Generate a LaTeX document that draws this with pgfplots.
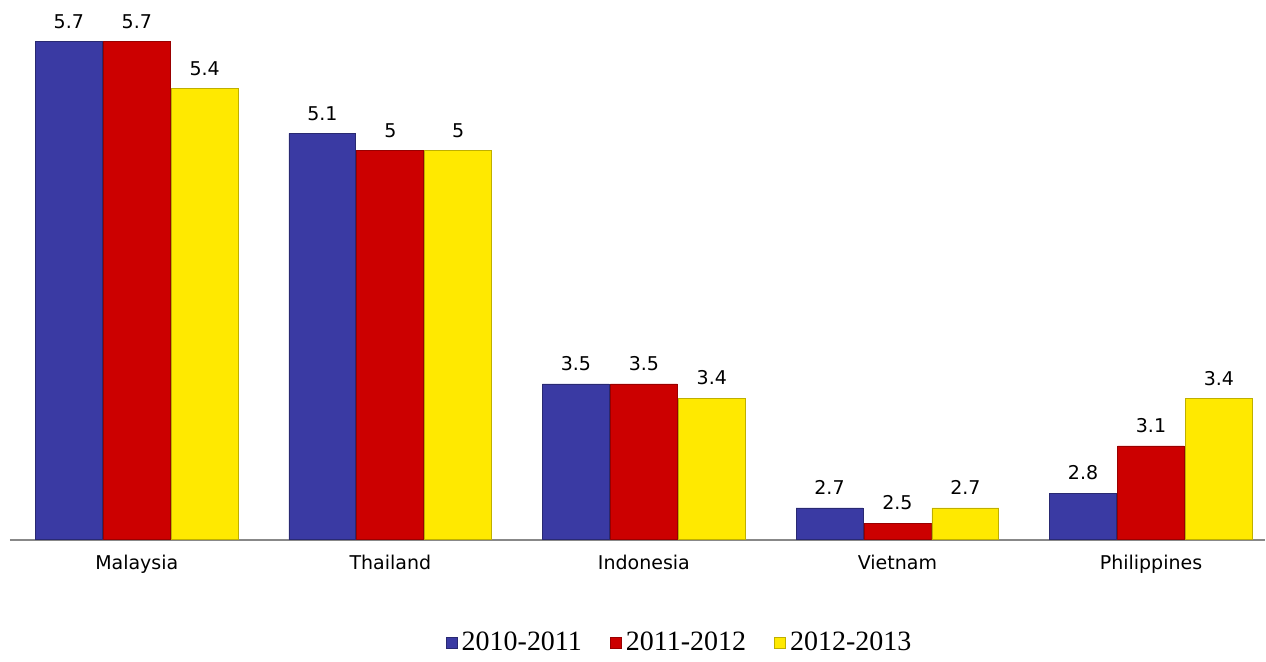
\documentclass[border=0pt]{standalone}
\usepackage{fontspec}
\setmainfont{DejaVu Sans}
\newfontfamily\legendfont{Liberation Serif}
\usepackage{pgfplots}
\pgfplotsset{compat=1.18}
\usepackage{pgfplotstable}

\definecolor{barblue}{RGB}{58,58,163}
\definecolor{barred}{RGB}{204,0,0}
\definecolor{baryellow}{RGB}{255,233,0}
\definecolor{axisgray}{RGB}{136,136,136}

% heights, labels as printed
\pgfplotstableread{
x y lab
0 5.70 5.7
1 5.11 5.1
2 3.494 3.5
3 2.694 2.7
4 2.79 2.8
}\tblue
\pgfplotstableread{
x y lab
0 5.70 5.7
1 5.00 5
2 3.494 3.5
3 2.597 2.5
4 3.094 3.1
}\tred
\pgfplotstableread{
x y lab
0 5.40 5.4
1 5.00 5
2 3.403 3.4
3 2.694 2.7
4 3.40 3.4
}\tyellow

\begin{document}
\begin{tikzpicture}
\begin{axis}[
  scale only axis, width=628pt, height=270pt,
  xmin=-0.5, xmax=4.45, ymin=2.49, ymax=5.97,
  ybar=0.5pt, bar width=33.5pt,
  axis x line*=bottom, axis y line=none,
  x axis line style={axisgray, line width=0.9pt, -},
  xtick={0,...,4}, ytick=\empty,
  xticklabels={Malaysia,Thailand,Indonesia,Vietnam,Philippines},
  major tick length=0pt,
  xticklabel style={font=\fontsize{9.5}{11}\selectfont, yshift=-4pt},
  nodes near coords, point meta=explicit symbolic,
  nodes near coords style={font=\fontsize{9.5}{11}\selectfont, yshift=3pt},
  legend columns=3,
  legend image code/.code={\draw[#1] (0pt,-2.8pt) rectangle (5.6pt,2.8pt);},
  legend style={draw=none, at={(0.5,0)}, anchor=center, xshift=21.5pt, yshift=-51.5pt,
    font=\legendfont\fontsize{14}{16}\selectfont,
    /tikz/every even column/.append style={column sep=12pt}},
]
\addplot[fill=barblue, draw=barblue!70!black] table[x=x, y=y, meta=lab]{\tblue};
\addplot[fill=barred, draw=barred!75!black] table[x=x, y=y, meta=lab]{\tred};
\addplot[fill=baryellow, draw=baryellow!75!black] table[x=x, y=y, meta=lab]{\tyellow};
\legend{2010-2011, 2011-2012, 2012-2013}
\end{axis}
\path ([xshift=-5pt, yshift=-58.5pt]current axis.south west) rectangle (current axis.north east);
\end{tikzpicture}
\end{document}
